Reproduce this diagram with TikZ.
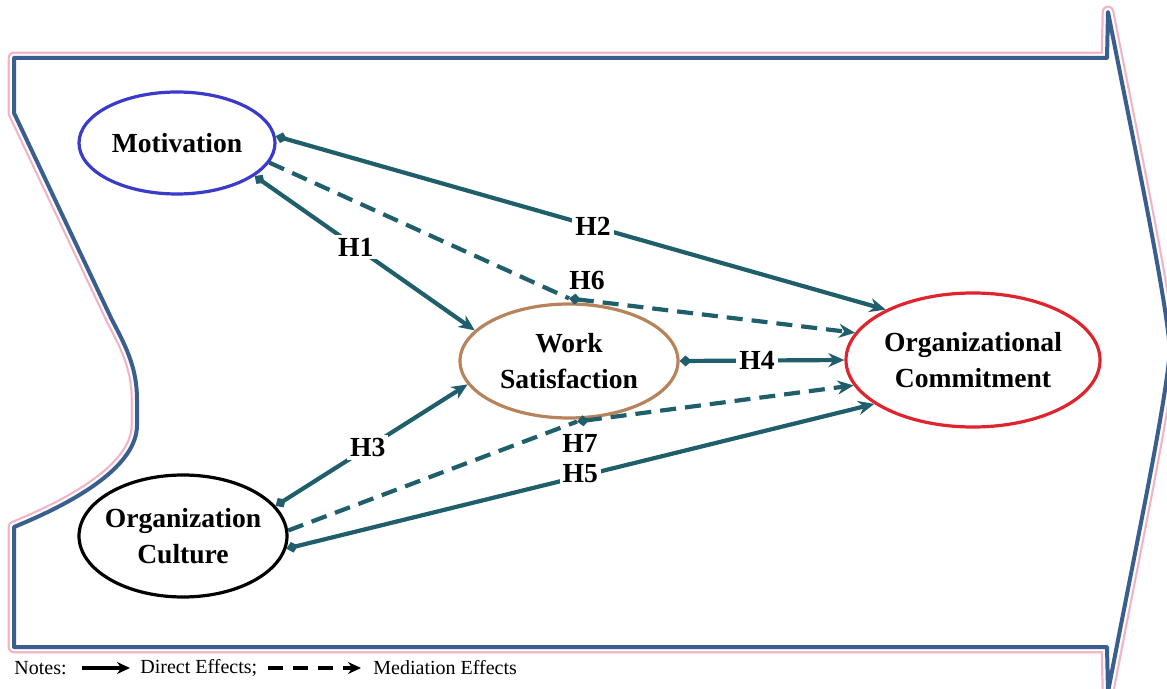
\documentclass[tikz,border=0pt]{standalone}
\usepackage{fontspec}
\setmainfont{Liberation Serif}
\usetikzlibrary{arrows.meta,shapes.geometric}
\definecolor{outblue}{HTML}{3A5F8F}
\definecolor{outpink}{HTML}{F2B3C6}
\definecolor{conncol}{HTML}{1F5E6B}
\definecolor{motblue}{HTML}{3A3ACB}
\definecolor{wsbrown}{HTML}{B8835A}
\definecolor{ocred}{HTML}{E0242D}
\begin{document}
\begin{tikzpicture}[x=0.5pt,y=-0.5pt,
  ell/.style={ellipse, line width=1.6pt, inner xsep=-8pt, inner ysep=0pt, align=center,
    font=\fontsize{13.8}{18}\selectfont\bfseries},
  conn/.style={draw=conncol, line width=2.1pt,
    {Diamond[length=6pt,width=5.5pt]}-{Stealth[length=8pt,width=7pt]}},
  medline/.style={draw=conncol, line width=2.1pt, dash pattern=on 8pt off 4.5pt},
  med/.style={conn, dash pattern=on 8pt off 4.5pt},
  lbl/.style={font=\fontsize{13.8}{16}\selectfont\bfseries, fill=white, inner sep=1.5pt},
  legtext/.style={anchor=west, inner sep=1pt, font=\fontsize{10}{12}\selectfont},
  legline/.style={black, line width=2pt, -{Stealth[length=6.5pt,width=6pt]}},
]
\useasboundingbox (0,0) rectangle (1167,689);
\clip (0,0) rectangle (1167,689);
\def\outl{(14,113) -- (14,58) -- (1107,58) -- (1108,12) .. controls (1135,150) and (1165,290) .. (1170,350) .. controls (1165,410) and (1135,550) .. (1108,692) -- (1107,647) -- (14,647) -- (14,527) .. controls (80,500) and (137,465) .. (137,425) -- (137,400) .. controls (137,370) and (128,350) .. (112,320) -- cycle}
\draw[outpink, line width=6.4pt, line join=round] \outl;
\draw[white, line width=4.2pt, line join=round] \outl;
\fill[white] \outl;
\draw[outblue, line width=2pt, line join=round] \outl;

% nodes
\node[ell, draw=motblue, minimum width=98pt, minimum height=51pt] (mot) at (177,143) {Motivation};
\node[ell, draw=wsbrown, minimum width=109pt, minimum height=57pt] (ws) at (569,361) {Work\\Satisfaction};
\node[ell, draw=ocred, minimum width=127pt, minimum height=67pt] (oc) at (973,360) {Organizational\\Commitment};
\node[ell, draw=black, minimum width=104pt, minimum height=61pt] (cul) at (183,536) {Organization\\Culture};

% junction points of mediation paths
\coordinate (m6) at ([yshift=2pt]ws.north);
\coordinate (m7) at ([xshift=4pt,yshift=-1pt]ws.south);

% direct effects
\draw[conn] (mot.-23.5) -- node[lbl, pos=0.46] {H1} (ws.162);
\draw[conn] (mot.4) -- node[lbl, pos=0.52] {H2} (oc.150);
\draw[conn] (cul.18) -- node[lbl, pos=0.48] {H3} (ws.193.6);
\draw[conn] (ws.east) -- node[lbl, pos=0.47] {H4} (oc.180);
\draw[conn] (cul.-7.7) -- node[lbl, pos=0.5, yshift=1.5pt] {H5} (oc.204);

% mediation effects
\draw[medline] (mot.-12) -- (m6);
\draw[med] (m6) -- (oc.167.6);
\draw[medline] (cul.3) -- (m7);
\draw[med] (m7) -- (oc.192);
\node[lbl, fill=none] (h6) at (587,281) {H6};
\node[lbl, fill=none] (h7) at (580,443) {H7};

% legend
\node[legtext] (notes) at (12,668) {Notes:};
\node[legtext] (direct) at (138,668) {Direct Effects;};
\node[legtext] (mediation) at (371,668) {Mediation Effects};
\draw[legline] ([xshift=6.5pt]notes.east) -- ([xshift=-4pt]direct.west);
\draw[legline, dash pattern=on 7.5pt off 5pt] ([xshift=4pt]direct.east) -- ([xshift=-5pt]mediation.west);
\end{tikzpicture}
\end{document}
